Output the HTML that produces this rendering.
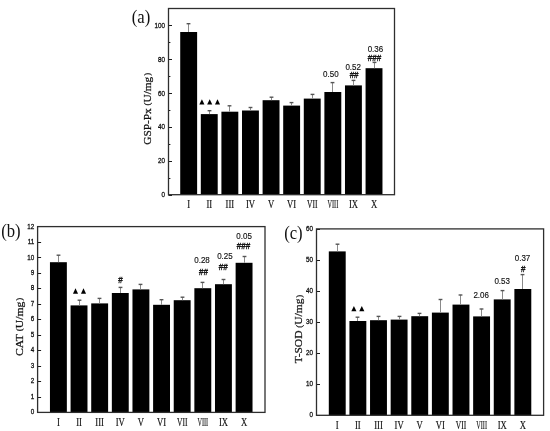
<!DOCTYPE html><html><head><meta charset="utf-8"><style>
html,body{margin:0;padding:0;background:#fff;}
svg{display:block;will-change:transform;}
.ser{font-family:"Liberation Serif",serif;}
.san{font-family:"Liberation Sans",sans-serif;}
</style></head><body>
<svg width="550" height="431" viewBox="0 0 550 431">
<rect x="0" y="0" width="550" height="431" fill="#fff"/>
<rect x="180.22" y="32.00" width="16.9" height="162.70" fill="#000"/>
<line x1="188.50" y1="23.50" x2="188.50" y2="32.00" stroke="#8a8a8a" stroke-width="1"/>
<line x1="186.60" y1="23.70" x2="190.40" y2="23.70" stroke="#555" stroke-width="1.4"/>
<text class="ser" x="0" y="0" font-size="13.3" text-anchor="middle" fill="#111" stroke="#111" stroke-width="0.2" transform="translate(188.67,208.2) scale(0.65,1)">I</text>
<rect x="200.81" y="114.10" width="16.9" height="80.60" fill="#000"/>
<line x1="209.50" y1="110.50" x2="209.50" y2="114.10" stroke="#8a8a8a" stroke-width="1"/>
<line x1="207.60" y1="110.70" x2="211.40" y2="110.70" stroke="#555" stroke-width="1.4"/>
<text class="ser" x="0" y="0" font-size="13.3" text-anchor="middle" fill="#111" stroke="#111" stroke-width="0.2" transform="translate(209.26,208.2) scale(0.65,1)">II</text>
<rect x="221.41" y="111.70" width="16.9" height="83.00" fill="#000"/>
<line x1="229.50" y1="105.60" x2="229.50" y2="111.70" stroke="#8a8a8a" stroke-width="1"/>
<line x1="227.60" y1="105.80" x2="231.40" y2="105.80" stroke="#555" stroke-width="1.4"/>
<text class="ser" x="0" y="0" font-size="13.3" text-anchor="middle" fill="#111" stroke="#111" stroke-width="0.2" transform="translate(229.86,208.2) scale(0.65,1)">III</text>
<rect x="242.00" y="110.50" width="16.9" height="84.20" fill="#000"/>
<line x1="250.50" y1="107.30" x2="250.50" y2="110.50" stroke="#8a8a8a" stroke-width="1"/>
<line x1="248.60" y1="107.50" x2="252.40" y2="107.50" stroke="#555" stroke-width="1.4"/>
<text class="ser" x="0" y="0" font-size="13.3" text-anchor="middle" fill="#111" stroke="#111" stroke-width="0.2" transform="translate(250.45,208.2) scale(0.65,1)">IV</text>
<rect x="262.60" y="100.20" width="16.9" height="94.50" fill="#000"/>
<line x1="271.50" y1="97.00" x2="271.50" y2="100.20" stroke="#8a8a8a" stroke-width="1"/>
<line x1="269.60" y1="97.20" x2="273.40" y2="97.20" stroke="#555" stroke-width="1.4"/>
<text class="ser" x="0" y="0" font-size="13.3" text-anchor="middle" fill="#111" stroke="#111" stroke-width="0.2" transform="translate(271.05,208.2) scale(0.65,1)">V</text>
<rect x="283.19" y="105.60" width="16.9" height="89.10" fill="#000"/>
<line x1="291.50" y1="102.40" x2="291.50" y2="105.60" stroke="#8a8a8a" stroke-width="1"/>
<line x1="289.60" y1="102.60" x2="293.40" y2="102.60" stroke="#555" stroke-width="1.4"/>
<text class="ser" x="0" y="0" font-size="13.3" text-anchor="middle" fill="#111" stroke="#111" stroke-width="0.2" transform="translate(291.64,208.2) scale(0.65,1)">VI</text>
<rect x="303.79" y="98.60" width="16.9" height="96.10" fill="#000"/>
<line x1="312.50" y1="94.20" x2="312.50" y2="98.60" stroke="#8a8a8a" stroke-width="1"/>
<line x1="310.60" y1="94.40" x2="314.40" y2="94.40" stroke="#555" stroke-width="1.4"/>
<text class="ser" x="0" y="0" font-size="13.3" text-anchor="middle" fill="#111" stroke="#111" stroke-width="0.2" transform="translate(312.24,208.2) scale(0.57,1)">VII</text>
<rect x="324.38" y="92.00" width="16.9" height="102.70" fill="#000"/>
<line x1="332.50" y1="82.40" x2="332.50" y2="92.00" stroke="#8a8a8a" stroke-width="1"/>
<line x1="330.60" y1="82.60" x2="334.40" y2="82.60" stroke="#555" stroke-width="1.4"/>
<text class="ser" x="0" y="0" font-size="13.3" text-anchor="middle" fill="#111" stroke="#111" stroke-width="0.2" transform="translate(332.83,208.2) scale(0.47,1)">VIII</text>
<rect x="344.98" y="85.40" width="16.9" height="109.30" fill="#000"/>
<line x1="353.50" y1="80.20" x2="353.50" y2="85.40" stroke="#8a8a8a" stroke-width="1"/>
<line x1="351.60" y1="80.40" x2="355.40" y2="80.40" stroke="#555" stroke-width="1.4"/>
<text class="ser" x="0" y="0" font-size="13.3" text-anchor="middle" fill="#111" stroke="#111" stroke-width="0.2" transform="translate(353.43,208.2) scale(0.65,1)">IX</text>
<rect x="365.57" y="68.20" width="16.9" height="126.50" fill="#000"/>
<line x1="374.50" y1="62.20" x2="374.50" y2="68.20" stroke="#8a8a8a" stroke-width="1"/>
<line x1="372.60" y1="62.40" x2="376.40" y2="62.40" stroke="#555" stroke-width="1.4"/>
<text class="ser" x="0" y="0" font-size="13.3" text-anchor="middle" fill="#111" stroke="#111" stroke-width="0.2" transform="translate(374.02,208.2) scale(0.65,1)">X</text>
<line x1="168.50" y1="195.50" x2="172.00" y2="195.50" stroke="#1a1a1a" stroke-width="1"/>
<text class="san" x="0" y="0" font-size="7.4" text-anchor="end" fill="#111" stroke="#111" stroke-width="0.3" transform="translate(165,197.20) scale(0.85,1)">0</text>
<line x1="168.50" y1="161.50" x2="172.00" y2="161.50" stroke="#1a1a1a" stroke-width="1"/>
<text class="san" x="0" y="0" font-size="7.4" text-anchor="end" fill="#111" stroke="#111" stroke-width="0.3" transform="translate(165,163.35) scale(0.85,1)">20</text>
<line x1="168.50" y1="127.50" x2="172.00" y2="127.50" stroke="#1a1a1a" stroke-width="1"/>
<text class="san" x="0" y="0" font-size="7.4" text-anchor="end" fill="#111" stroke="#111" stroke-width="0.3" transform="translate(165,129.49) scale(0.85,1)">40</text>
<line x1="168.50" y1="93.50" x2="172.00" y2="93.50" stroke="#1a1a1a" stroke-width="1"/>
<text class="san" x="0" y="0" font-size="7.4" text-anchor="end" fill="#111" stroke="#111" stroke-width="0.3" transform="translate(165,95.64) scale(0.85,1)">60</text>
<line x1="168.50" y1="59.50" x2="172.00" y2="59.50" stroke="#1a1a1a" stroke-width="1"/>
<text class="san" x="0" y="0" font-size="7.4" text-anchor="end" fill="#111" stroke="#111" stroke-width="0.3" transform="translate(165,61.78) scale(0.85,1)">80</text>
<line x1="168.50" y1="25.50" x2="172.00" y2="25.50" stroke="#1a1a1a" stroke-width="1"/>
<text class="san" x="0" y="0" font-size="7.4" text-anchor="end" fill="#111" stroke="#111" stroke-width="0.3" transform="translate(165,27.93) scale(0.85,1)">100</text>
<line x1="168.50" y1="178.50" x2="170.40" y2="178.50" stroke="#1a1a1a" stroke-width="1"/>
<line x1="168.50" y1="144.50" x2="170.40" y2="144.50" stroke="#1a1a1a" stroke-width="1"/>
<line x1="168.50" y1="110.50" x2="170.40" y2="110.50" stroke="#1a1a1a" stroke-width="1"/>
<line x1="168.50" y1="76.50" x2="170.40" y2="76.50" stroke="#1a1a1a" stroke-width="1"/>
<line x1="168.50" y1="42.50" x2="170.40" y2="42.50" stroke="#1a1a1a" stroke-width="1"/>
<rect x="168.50" y="8.50" width="226.00" height="186.20" fill="none" stroke="#2e2e2e" stroke-width="1.3"/>
<text class="ser" x="-35.90" y="0" font-size="11.4" textLength="71.8" lengthAdjust="spacingAndGlyphs" fill="#111" stroke="#111" stroke-width="0.25" transform="translate(150.70,108.80) rotate(-90)">GSP-Px <tspan font-size="8.8" dy="-0.7">(</tspan><tspan dy="0.7">U/mg</tspan><tspan font-size="8.8" dy="-0.7" dx="0.9">)</tspan></text>
<text class="ser" x="0" y="0" font-size="18.5" fill="#111" transform="translate(131.8,23.1) scale(0.9,1)">(a)</text>
<rect x="49.95" y="262.20" width="16.9" height="150.20" fill="#000"/>
<line x1="58.50" y1="255.00" x2="58.50" y2="262.20" stroke="#8a8a8a" stroke-width="1"/>
<line x1="56.60" y1="255.20" x2="60.40" y2="255.20" stroke="#555" stroke-width="1.4"/>
<text class="ser" x="0" y="0" font-size="13.3" text-anchor="middle" fill="#111" stroke="#111" stroke-width="0.2" transform="translate(58.40,426.2) scale(0.65,1)">I</text>
<rect x="70.58" y="305.40" width="16.9" height="107.00" fill="#000"/>
<line x1="79.50" y1="300.00" x2="79.50" y2="305.40" stroke="#8a8a8a" stroke-width="1"/>
<line x1="77.60" y1="300.20" x2="81.40" y2="300.20" stroke="#555" stroke-width="1.4"/>
<text class="ser" x="0" y="0" font-size="13.3" text-anchor="middle" fill="#111" stroke="#111" stroke-width="0.2" transform="translate(79.03,426.2) scale(0.65,1)">II</text>
<rect x="91.21" y="303.40" width="16.9" height="109.00" fill="#000"/>
<line x1="99.50" y1="298.20" x2="99.50" y2="303.40" stroke="#8a8a8a" stroke-width="1"/>
<line x1="97.60" y1="298.40" x2="101.40" y2="298.40" stroke="#555" stroke-width="1.4"/>
<text class="ser" x="0" y="0" font-size="13.3" text-anchor="middle" fill="#111" stroke="#111" stroke-width="0.2" transform="translate(99.66,426.2) scale(0.65,1)">III</text>
<rect x="111.84" y="293.00" width="16.9" height="119.40" fill="#000"/>
<line x1="120.50" y1="287.20" x2="120.50" y2="293.00" stroke="#8a8a8a" stroke-width="1"/>
<line x1="118.60" y1="287.40" x2="122.40" y2="287.40" stroke="#555" stroke-width="1.4"/>
<text class="ser" x="0" y="0" font-size="13.3" text-anchor="middle" fill="#111" stroke="#111" stroke-width="0.2" transform="translate(120.29,426.2) scale(0.65,1)">IV</text>
<rect x="132.47" y="289.40" width="16.9" height="123.00" fill="#000"/>
<line x1="140.50" y1="284.20" x2="140.50" y2="289.40" stroke="#8a8a8a" stroke-width="1"/>
<line x1="138.60" y1="284.40" x2="142.40" y2="284.40" stroke="#555" stroke-width="1.4"/>
<text class="ser" x="0" y="0" font-size="13.3" text-anchor="middle" fill="#111" stroke="#111" stroke-width="0.2" transform="translate(140.92,426.2) scale(0.65,1)">V</text>
<rect x="153.10" y="304.80" width="16.9" height="107.60" fill="#000"/>
<line x1="161.50" y1="299.50" x2="161.50" y2="304.80" stroke="#8a8a8a" stroke-width="1"/>
<line x1="159.60" y1="299.70" x2="163.40" y2="299.70" stroke="#555" stroke-width="1.4"/>
<text class="ser" x="0" y="0" font-size="13.3" text-anchor="middle" fill="#111" stroke="#111" stroke-width="0.2" transform="translate(161.55,426.2) scale(0.65,1)">VI</text>
<rect x="173.73" y="300.20" width="16.9" height="112.20" fill="#000"/>
<line x1="182.50" y1="297.00" x2="182.50" y2="300.20" stroke="#8a8a8a" stroke-width="1"/>
<line x1="180.60" y1="297.20" x2="184.40" y2="297.20" stroke="#555" stroke-width="1.4"/>
<text class="ser" x="0" y="0" font-size="13.3" text-anchor="middle" fill="#111" stroke="#111" stroke-width="0.2" transform="translate(182.18,426.2) scale(0.57,1)">VII</text>
<rect x="194.36" y="288.20" width="16.9" height="124.20" fill="#000"/>
<line x1="202.50" y1="282.20" x2="202.50" y2="288.20" stroke="#8a8a8a" stroke-width="1"/>
<line x1="200.60" y1="282.40" x2="204.40" y2="282.40" stroke="#555" stroke-width="1.4"/>
<text class="ser" x="0" y="0" font-size="13.3" text-anchor="middle" fill="#111" stroke="#111" stroke-width="0.2" transform="translate(202.81,426.2) scale(0.47,1)">VIII</text>
<rect x="214.99" y="284.20" width="16.9" height="128.20" fill="#000"/>
<line x1="223.50" y1="279.30" x2="223.50" y2="284.20" stroke="#8a8a8a" stroke-width="1"/>
<line x1="221.60" y1="279.50" x2="225.40" y2="279.50" stroke="#555" stroke-width="1.4"/>
<text class="ser" x="0" y="0" font-size="13.3" text-anchor="middle" fill="#111" stroke="#111" stroke-width="0.2" transform="translate(223.44,426.2) scale(0.65,1)">IX</text>
<rect x="235.62" y="262.80" width="16.9" height="149.60" fill="#000"/>
<line x1="244.50" y1="256.30" x2="244.50" y2="262.80" stroke="#8a8a8a" stroke-width="1"/>
<line x1="242.60" y1="256.50" x2="246.40" y2="256.50" stroke="#555" stroke-width="1.4"/>
<text class="ser" x="0" y="0" font-size="13.3" text-anchor="middle" fill="#111" stroke="#111" stroke-width="0.2" transform="translate(244.07,426.2) scale(0.65,1)">X</text>
<line x1="37.60" y1="412.50" x2="41.10" y2="412.50" stroke="#1a1a1a" stroke-width="1"/>
<text class="san" x="0" y="0" font-size="7.4" text-anchor="end" fill="#111" stroke="#111" stroke-width="0.3" transform="translate(34.2,414.35) scale(0.85,1)">0</text>
<line x1="37.60" y1="397.50" x2="41.10" y2="397.50" stroke="#1a1a1a" stroke-width="1"/>
<text class="san" x="0" y="0" font-size="7.4" text-anchor="end" fill="#111" stroke="#111" stroke-width="0.3" transform="translate(34.2,398.87) scale(0.85,1)">1</text>
<line x1="37.60" y1="381.50" x2="41.10" y2="381.50" stroke="#1a1a1a" stroke-width="1"/>
<text class="san" x="0" y="0" font-size="7.4" text-anchor="end" fill="#111" stroke="#111" stroke-width="0.3" transform="translate(34.2,383.38) scale(0.85,1)">2</text>
<line x1="37.60" y1="366.50" x2="41.10" y2="366.50" stroke="#1a1a1a" stroke-width="1"/>
<text class="san" x="0" y="0" font-size="7.4" text-anchor="end" fill="#111" stroke="#111" stroke-width="0.3" transform="translate(34.2,367.90) scale(0.85,1)">3</text>
<line x1="37.60" y1="350.50" x2="41.10" y2="350.50" stroke="#1a1a1a" stroke-width="1"/>
<text class="san" x="0" y="0" font-size="7.4" text-anchor="end" fill="#111" stroke="#111" stroke-width="0.3" transform="translate(34.2,352.42) scale(0.85,1)">4</text>
<line x1="37.60" y1="335.50" x2="41.10" y2="335.50" stroke="#1a1a1a" stroke-width="1"/>
<text class="san" x="0" y="0" font-size="7.4" text-anchor="end" fill="#111" stroke="#111" stroke-width="0.3" transform="translate(34.2,336.93) scale(0.85,1)">5</text>
<line x1="37.60" y1="319.50" x2="41.10" y2="319.50" stroke="#1a1a1a" stroke-width="1"/>
<text class="san" x="0" y="0" font-size="7.4" text-anchor="end" fill="#111" stroke="#111" stroke-width="0.3" transform="translate(34.2,321.45) scale(0.85,1)">6</text>
<line x1="37.60" y1="304.50" x2="41.10" y2="304.50" stroke="#1a1a1a" stroke-width="1"/>
<text class="san" x="0" y="0" font-size="7.4" text-anchor="end" fill="#111" stroke="#111" stroke-width="0.3" transform="translate(34.2,305.97) scale(0.85,1)">7</text>
<line x1="37.60" y1="288.50" x2="41.10" y2="288.50" stroke="#1a1a1a" stroke-width="1"/>
<text class="san" x="0" y="0" font-size="7.4" text-anchor="end" fill="#111" stroke="#111" stroke-width="0.3" transform="translate(34.2,290.48) scale(0.85,1)">8</text>
<line x1="37.60" y1="273.50" x2="41.10" y2="273.50" stroke="#1a1a1a" stroke-width="1"/>
<text class="san" x="0" y="0" font-size="7.4" text-anchor="end" fill="#111" stroke="#111" stroke-width="0.3" transform="translate(34.2,275.00) scale(0.85,1)">9</text>
<line x1="37.60" y1="257.50" x2="41.10" y2="257.50" stroke="#1a1a1a" stroke-width="1"/>
<text class="san" x="0" y="0" font-size="7.4" text-anchor="end" fill="#111" stroke="#111" stroke-width="0.3" transform="translate(34.2,259.52) scale(0.85,1)">10</text>
<line x1="37.60" y1="242.50" x2="41.10" y2="242.50" stroke="#1a1a1a" stroke-width="1"/>
<text class="san" x="0" y="0" font-size="7.4" text-anchor="end" fill="#111" stroke="#111" stroke-width="0.3" transform="translate(34.2,244.03) scale(0.85,1)">11</text>
<line x1="37.60" y1="226.50" x2="41.10" y2="226.50" stroke="#1a1a1a" stroke-width="1"/>
<text class="san" x="0" y="0" font-size="7.4" text-anchor="end" fill="#111" stroke="#111" stroke-width="0.3" transform="translate(34.2,228.55) scale(0.85,1)">12</text>
<rect x="37.60" y="226.60" width="227.40" height="185.80" fill="none" stroke="#2e2e2e" stroke-width="1.3"/>
<text class="ser" x="-29.20" y="0" font-size="11.4" textLength="58.4" lengthAdjust="spacingAndGlyphs" fill="#111" stroke="#111" stroke-width="0.25" transform="translate(22.70,326.90) rotate(-90)">CAT <tspan font-size="8.8" dy="-0.7">(</tspan><tspan dy="0.7">U/mg</tspan><tspan font-size="8.8" dy="-0.7" dx="0.9">)</tspan></text>
<text class="ser" x="0" y="0" font-size="18.5" fill="#111" transform="translate(1.2,236.7) scale(0.9,1)">(b)</text>
<rect x="328.80" y="251.40" width="16.9" height="163.90" fill="#000"/>
<line x1="337.50" y1="244.00" x2="337.50" y2="251.40" stroke="#8a8a8a" stroke-width="1"/>
<line x1="335.60" y1="244.20" x2="339.40" y2="244.20" stroke="#555" stroke-width="1.4"/>
<text class="ser" x="0" y="0" font-size="13.3" text-anchor="middle" fill="#111" stroke="#111" stroke-width="0.2" transform="translate(337.25,428.6) scale(0.65,1)">I</text>
<rect x="349.42" y="321.00" width="16.9" height="94.30" fill="#000"/>
<line x1="357.50" y1="317.00" x2="357.50" y2="321.00" stroke="#8a8a8a" stroke-width="1"/>
<line x1="355.60" y1="317.20" x2="359.40" y2="317.20" stroke="#555" stroke-width="1.4"/>
<text class="ser" x="0" y="0" font-size="13.3" text-anchor="middle" fill="#111" stroke="#111" stroke-width="0.2" transform="translate(357.87,428.6) scale(0.65,1)">II</text>
<rect x="370.04" y="320.20" width="16.9" height="95.10" fill="#000"/>
<line x1="378.50" y1="316.20" x2="378.50" y2="320.20" stroke="#8a8a8a" stroke-width="1"/>
<line x1="376.60" y1="316.40" x2="380.40" y2="316.40" stroke="#555" stroke-width="1.4"/>
<text class="ser" x="0" y="0" font-size="13.3" text-anchor="middle" fill="#111" stroke="#111" stroke-width="0.2" transform="translate(378.49,428.6) scale(0.65,1)">III</text>
<rect x="390.66" y="319.60" width="16.9" height="95.70" fill="#000"/>
<line x1="399.50" y1="316.20" x2="399.50" y2="319.60" stroke="#8a8a8a" stroke-width="1"/>
<line x1="397.60" y1="316.40" x2="401.40" y2="316.40" stroke="#555" stroke-width="1.4"/>
<text class="ser" x="0" y="0" font-size="13.3" text-anchor="middle" fill="#111" stroke="#111" stroke-width="0.2" transform="translate(399.11,428.6) scale(0.65,1)">IV</text>
<rect x="411.28" y="316.20" width="16.9" height="99.10" fill="#000"/>
<line x1="419.50" y1="313.20" x2="419.50" y2="316.20" stroke="#8a8a8a" stroke-width="1"/>
<line x1="417.60" y1="313.40" x2="421.40" y2="313.40" stroke="#555" stroke-width="1.4"/>
<text class="ser" x="0" y="0" font-size="13.3" text-anchor="middle" fill="#111" stroke="#111" stroke-width="0.2" transform="translate(419.73,428.6) scale(0.65,1)">V</text>
<rect x="431.90" y="312.60" width="16.9" height="102.70" fill="#000"/>
<line x1="440.50" y1="299.30" x2="440.50" y2="312.60" stroke="#8a8a8a" stroke-width="1"/>
<line x1="438.60" y1="299.50" x2="442.40" y2="299.50" stroke="#555" stroke-width="1.4"/>
<text class="ser" x="0" y="0" font-size="13.3" text-anchor="middle" fill="#111" stroke="#111" stroke-width="0.2" transform="translate(440.35,428.6) scale(0.65,1)">VI</text>
<rect x="452.52" y="304.60" width="16.9" height="110.70" fill="#000"/>
<line x1="460.50" y1="294.80" x2="460.50" y2="304.60" stroke="#8a8a8a" stroke-width="1"/>
<line x1="458.60" y1="295.00" x2="462.40" y2="295.00" stroke="#555" stroke-width="1.4"/>
<text class="ser" x="0" y="0" font-size="13.3" text-anchor="middle" fill="#111" stroke="#111" stroke-width="0.2" transform="translate(460.97,428.6) scale(0.57,1)">VII</text>
<rect x="473.14" y="316.40" width="16.9" height="98.90" fill="#000"/>
<line x1="481.50" y1="308.80" x2="481.50" y2="316.40" stroke="#8a8a8a" stroke-width="1"/>
<line x1="479.60" y1="309.00" x2="483.40" y2="309.00" stroke="#555" stroke-width="1.4"/>
<text class="ser" x="0" y="0" font-size="13.3" text-anchor="middle" fill="#111" stroke="#111" stroke-width="0.2" transform="translate(481.59,428.6) scale(0.47,1)">VIII</text>
<rect x="493.76" y="299.40" width="16.9" height="115.90" fill="#000"/>
<line x1="502.50" y1="290.40" x2="502.50" y2="299.40" stroke="#8a8a8a" stroke-width="1"/>
<line x1="500.60" y1="290.60" x2="504.40" y2="290.60" stroke="#555" stroke-width="1.4"/>
<text class="ser" x="0" y="0" font-size="13.3" text-anchor="middle" fill="#111" stroke="#111" stroke-width="0.2" transform="translate(502.21,428.6) scale(0.65,1)">IX</text>
<rect x="514.38" y="289.00" width="16.9" height="126.30" fill="#000"/>
<line x1="522.50" y1="274.40" x2="522.50" y2="289.00" stroke="#8a8a8a" stroke-width="1"/>
<line x1="520.60" y1="274.60" x2="524.40" y2="274.60" stroke="#555" stroke-width="1.4"/>
<text class="ser" x="0" y="0" font-size="13.3" text-anchor="middle" fill="#111" stroke="#111" stroke-width="0.2" transform="translate(522.83,428.6) scale(0.65,1)">X</text>
<line x1="316.50" y1="415.50" x2="320.00" y2="415.50" stroke="#1a1a1a" stroke-width="1"/>
<text class="san" x="0" y="0" font-size="7.4" text-anchor="end" fill="#111" stroke="#111" stroke-width="0.3" transform="translate(313.0,417.25) scale(0.85,1)">0</text>
<line x1="316.50" y1="384.50" x2="320.00" y2="384.50" stroke="#1a1a1a" stroke-width="1"/>
<text class="san" x="0" y="0" font-size="7.4" text-anchor="end" fill="#111" stroke="#111" stroke-width="0.3" transform="translate(313.0,386.18) scale(0.85,1)">10</text>
<line x1="316.50" y1="353.50" x2="320.00" y2="353.50" stroke="#1a1a1a" stroke-width="1"/>
<text class="san" x="0" y="0" font-size="7.4" text-anchor="end" fill="#111" stroke="#111" stroke-width="0.3" transform="translate(313.0,355.12) scale(0.85,1)">20</text>
<line x1="316.50" y1="322.50" x2="320.00" y2="322.50" stroke="#1a1a1a" stroke-width="1"/>
<text class="san" x="0" y="0" font-size="7.4" text-anchor="end" fill="#111" stroke="#111" stroke-width="0.3" transform="translate(313.0,324.05) scale(0.85,1)">30</text>
<line x1="316.50" y1="291.50" x2="320.00" y2="291.50" stroke="#1a1a1a" stroke-width="1"/>
<text class="san" x="0" y="0" font-size="7.4" text-anchor="end" fill="#111" stroke="#111" stroke-width="0.3" transform="translate(313.0,292.98) scale(0.85,1)">40</text>
<line x1="316.50" y1="260.50" x2="320.00" y2="260.50" stroke="#1a1a1a" stroke-width="1"/>
<text class="san" x="0" y="0" font-size="7.4" text-anchor="end" fill="#111" stroke="#111" stroke-width="0.3" transform="translate(313.0,261.92) scale(0.85,1)">50</text>
<line x1="316.50" y1="229.50" x2="320.00" y2="229.50" stroke="#1a1a1a" stroke-width="1"/>
<text class="san" x="0" y="0" font-size="7.4" text-anchor="end" fill="#111" stroke="#111" stroke-width="0.3" transform="translate(313.0,230.85) scale(0.85,1)">60</text>
<rect x="316.50" y="228.90" width="227.10" height="186.40" fill="none" stroke="#2e2e2e" stroke-width="1.3"/>
<text class="ser" x="-34.30" y="0" font-size="11.4" textLength="68.6" lengthAdjust="spacingAndGlyphs" fill="#111" stroke="#111" stroke-width="0.25" transform="translate(302.30,329.00) rotate(-90)">T-SOD <tspan font-size="8.8" dy="-0.7">(</tspan><tspan dy="0.7">U/mg</tspan><tspan font-size="8.8" dy="-0.7" dx="0.9">)</tspan></text>
<text class="ser" x="0" y="0" font-size="18.5" fill="#111" transform="translate(284.2,239.1) scale(0.9,1)">(c)</text>
<polygon points="199.35,104.50 204.45,104.50 201.90,99.20" fill="#000"/>
<polygon points="207.15,104.50 212.25,104.50 209.70,99.20" fill="#000"/>
<polygon points="214.95,104.50 220.05,104.50 217.50,99.20" fill="#000"/>
<polygon points="72.95,293.70 78.05,293.70 75.50,288.30" fill="#000"/>
<polygon points="80.95,293.70 86.05,293.70 83.50,288.30" fill="#000"/>
<polygon points="351.35,311.30 356.45,311.30 353.90,306.10" fill="#000"/>
<polygon points="359.25,311.30 364.35,311.30 361.80,306.10" fill="#000"/>
<text class="san" x="0" y="0" font-size="9.4" text-anchor="middle" fill="#111" stroke="#111" stroke-width="0.15" transform="translate(330.80,76.60) scale(0.85,1)">0.50</text>
<text class="san" x="0" y="0" font-size="9.4" text-anchor="middle" fill="#111" stroke="#111" stroke-width="0.15" transform="translate(353.20,69.70) scale(0.85,1)">0.52</text>
<text class="san" x="0" y="0" font-size="9.4" text-anchor="middle" fill="#111" stroke="#111" stroke-width="0.4" transform="translate(354.10,78.00) scale(0.85,1)">##</text>
<text class="san" x="0" y="0" font-size="9.4" text-anchor="middle" fill="#111" stroke="#111" stroke-width="0.15" transform="translate(375.40,52.20) scale(0.85,1)">0.36</text>
<text class="san" x="0" y="0" font-size="9.4" text-anchor="middle" fill="#111" stroke="#111" stroke-width="0.4" transform="translate(374.40,61.00) scale(0.85,1)">###</text>
<text class="san" x="0" y="0" font-size="9.4" text-anchor="middle" fill="#111" stroke="#111" stroke-width="0.4" transform="translate(120.40,282.50) scale(0.85,1)">#</text>
<text class="san" x="0" y="0" font-size="9.4" text-anchor="middle" fill="#111" stroke="#111" stroke-width="0.15" transform="translate(202.00,263.20) scale(0.85,1)">0.28</text>
<text class="san" x="0" y="0" font-size="9.4" text-anchor="middle" fill="#111" stroke="#111" stroke-width="0.4" transform="translate(203.40,275.00) scale(0.85,1)">##</text>
<text class="san" x="0" y="0" font-size="9.4" text-anchor="middle" fill="#111" stroke="#111" stroke-width="0.15" transform="translate(224.90,258.60) scale(0.85,1)">0.25</text>
<text class="san" x="0" y="0" font-size="9.4" text-anchor="middle" fill="#111" stroke="#111" stroke-width="0.4" transform="translate(223.30,269.50) scale(0.85,1)">##</text>
<text class="san" x="0" y="0" font-size="9.4" text-anchor="middle" fill="#111" stroke="#111" stroke-width="0.15" transform="translate(244.10,238.60) scale(0.85,1)">0.05</text>
<text class="san" x="0" y="0" font-size="9.4" text-anchor="middle" fill="#111" stroke="#111" stroke-width="0.4" transform="translate(243.50,249.30) scale(0.85,1)">###</text>
<text class="san" x="0" y="0" font-size="9.4" text-anchor="middle" fill="#111" stroke="#111" stroke-width="0.15" transform="translate(481.20,297.50) scale(0.85,1)">2.06</text>
<text class="san" x="0" y="0" font-size="9.4" text-anchor="middle" fill="#111" stroke="#111" stroke-width="0.15" transform="translate(502.20,283.70) scale(0.85,1)">0.53</text>
<text class="san" x="0" y="0" font-size="9.4" text-anchor="middle" fill="#111" stroke="#111" stroke-width="0.15" transform="translate(522.50,261.00) scale(0.85,1)">0.37</text>
<text class="san" x="0" y="0" font-size="9.4" text-anchor="middle" fill="#111" stroke="#111" stroke-width="0.4" transform="translate(523.20,272.00) scale(0.85,1)">#</text>
</svg></body></html>
